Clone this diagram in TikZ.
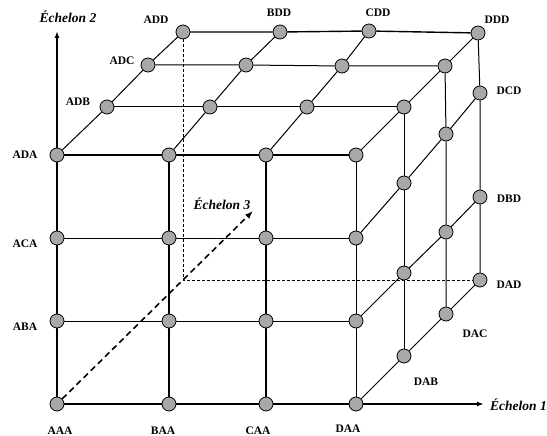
\documentclass[tikz,border=0pt]{standalone}
\usepackage{fontspec}
\setmainfont{Liberation Serif}
\usetikzlibrary{arrows.meta}
\definecolor{nodegray}{RGB}{168,168,168}
\begin{document}
\begin{tikzpicture}[x=1pt,y=-1pt,
  pt/.style={circle,draw=black,line width=0.8pt,fill=nodegray,minimum size=14pt,inner sep=0pt},
  lab/.style={font=\fontsize{11.5}{13}\selectfont\bfseries,inner sep=0pt},
  axlab/.style={font=\fontsize{13.5}{15}\selectfont\bfseries\itshape,inner sep=0pt},
  thick line/.style={line width=1.4pt},
  thin line/.style={line width=1.0pt},
  axis/.style={line width=1.6pt,-{Latex[length=7pt,width=5pt]}},
  hidden/.style={line width=1.0pt,dash pattern=on 3pt off 2pt},
  depth arrow/.style={line width=1.6pt,dash pattern=on 6pt off 4pt,-{Latex[length=8pt,width=6pt]}}]
\useasboundingbox (0,0) rectangle (547,436);
% front face
\node[pt] (AAA) at (57,404) {};
\node[pt] (BAA) at (169,404) {};
\node[pt] (CAA) at (266,404) {};
\node[pt] (DAA) at (356,404) {};
\node[pt] (ABA) at (57,321) {};
\node[pt] (BBA) at (169,321) {};
\node[pt] (CBA) at (266,321) {};
\node[pt] (DBA) at (356,321) {};
\node[pt] (ACA) at (57,238) {};
\node[pt] (BCA) at (169,238) {};
\node[pt] (CCA) at (266,238) {};
\node[pt] (DCA) at (356,238) {};
\node[pt] (ADA) at (57,155) {};
\node[pt] (BDA) at (169,155) {};
\node[pt] (CDA) at (266,155) {};
\node[pt] (DDA) at (356,155) {};
% top face
\node[pt] (ADB) at (107,107) {};
\node[pt] (BDB) at (210,107) {};
\node[pt] (CDB) at (307,107) {};
\node[pt] (DDB) at (404,107) {};
\node[pt] (ADC) at (148,65) {};
\node[pt] (BDC) at (246,65) {};
\node[pt] (CDC) at (342,66) {};
\node[pt] (DDC) at (445,66) {};
\node[pt] (ADD) at (183,32) {};
\node[pt] (BDD) at (280,32) {};
\node[pt] (CDD) at (369,31) {};
\node[pt] (DDD) at (478,33) {};
% right face
\node[pt] (DAB) at (404,356) {};
\node[pt] (DAC) at (446,314) {};
\node[pt] (DAD) at (480,280) {};
\node[pt] (DBB) at (404,273) {};
\node[pt] (DBC) at (446,232) {};
\node[pt] (DBD) at (480,197) {};
\node[pt] (DCB) at (404,183) {};
\node[pt] (DCC) at (446,134) {};
\node[pt] (DCD) at (480,93) {};
% free ends
\coordinate (e1) at (484,404);
\coordinate (e2) at (57,31);
\coordinate (e3) at (253,211);
\coordinate (hc) at (183,280);
% hidden edges
\draw[hidden] (ADD) -- (hc) -- (DAD);
% axes
\draw[line width=1.6pt] (AAA) -- (BAA) -- (CAA) -- (DAA);
\draw[axis] (DAA) -- (e1);
\draw[line width=1.6pt] (AAA) -- (ABA) -- (ACA) -- (ADA);
\draw[axis] (ADA) -- (e2);
\draw[depth arrow] (AAA) -- (e3);
% front face
\draw[thin line] (ABA) -- (BBA) -- (CBA) -- (DBA);
\draw[thin line] (ACA) -- (BCA) -- (CCA) -- (DCA);
\draw[thick line] (ADA) -- (BDA) -- (CDA) -- (DDA);
\draw[thick line] (BAA) -- (BBA) -- (BCA) -- (BDA);
\draw[thick line] (CAA) -- (CBA) -- (CCA) -- (CDA);
\draw[thin line] (DAA) -- (DBA) -- (DCA) -- (DDA);
% top face
\draw[thin line] (ADB) -- (BDB) -- (CDB) -- (DDB);
\draw[thin line] (ADC) -- (BDC) -- (CDC) -- (DDC);
\draw[thick line] (ADD) -- (BDD) -- (CDD) -- (DDD);
\draw[thin line] (ADA) -- (ADB) -- (ADC) -- (ADD);
\draw[thin line] (BDA) -- (BDB) -- (BDC) -- (BDD);
\draw[thin line] (CDA) -- (CDB) -- (CDC) -- (CDD);
\draw[thin line] (DDA) -- (DDB) -- (DDC) -- (DDD);
% right face
\draw[thin line] (DAA) -- (DAB) -- (DAC) -- (DAD);
\draw[thin line] (DBA) -- (DBB) -- (DBC) -- (DBD);
\draw[thin line] (DCA) -- (DCB) -- (DCC) -- (DCD);
\draw[thin line] (DAB) -- (DBB) -- (DCB) -- (DDB);
\draw[thin line] (DAC) -- (DBC) -- (DCC) -- (DDC);
\draw[thin line] (DAD) -- (DBD) -- (DCD) -- (DDD);
% labels
\node[lab] (lAAA) at (60,431) {AAA};
\node[lab] (lBAA) at (163,431) {BAA};
\node[lab] (lCAA) at (258,431) {CAA};
\node[lab] (lDAA) at (348,429) {DAA};
\node[lab] (lABA) at (25,327) {ABA};
\node[lab] (lACA) at (25,244) {ACA};
\node[lab] (lADA) at (25,155) {ADA};
\node[lab] (lADB) at (78,102) {ADB};
\node[lab] (lADC) at (122,61) {ADC};
\node[lab] (lADD) at (156,20) {ADD};
\node[lab] (lBDD) at (279,13) {BDD};
\node[lab] (lCDD) at (378,13) {CDD};
\node[lab] (lDDD) at (497,20) {DDD};
\node[lab] (lDCD) at (509,91) {DCD};
\node[lab] (lDBD) at (509,199) {DBD};
\node[lab] (lDAD) at (509,285) {DAD};
\node[lab] (lDAC) at (475,334) {DAC};
\node[lab] (lDAB) at (426,382) {DAB};
\node[axlab] (l2) at (68,17) {Échelon 2};
\node[axlab] (l3) at (222,204) {Échelon 3};
\node[axlab,anchor=west] (l1) at (490,405) {Échelon 1};
\end{tikzpicture}
\end{document}
